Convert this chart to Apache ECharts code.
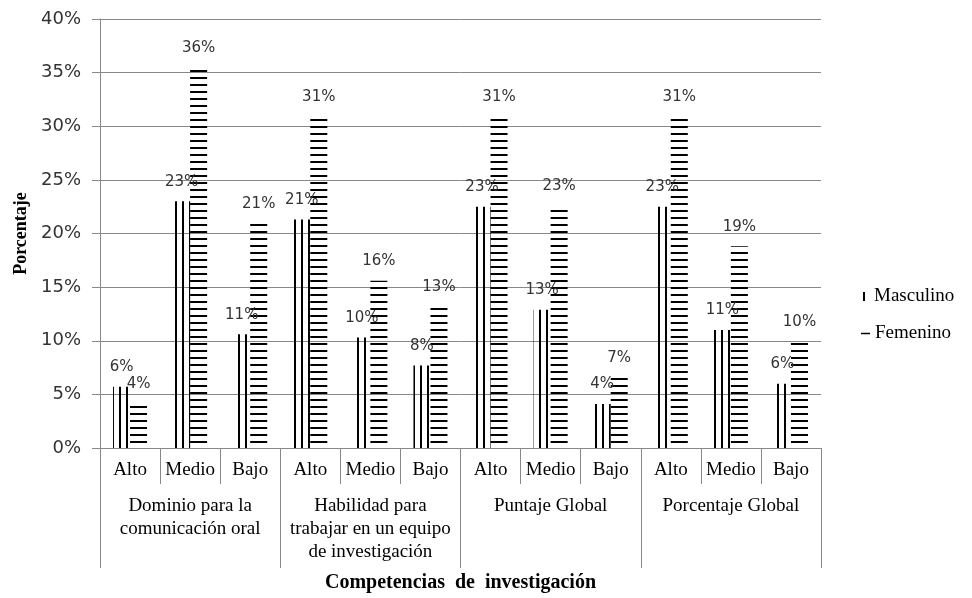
<!DOCTYPE html>
<html>
<head>
<meta charset="utf-8">
<script src="https://cdn.jsdelivr.net/npm/echarts@6/dist/echarts.min.js"></script>
<style>
html,body{margin:0;padding:0;background:#fff;}
#chart{width:972px;height:598px;}
</style>
</head>
<body>
<div id="chart"></div>
<script>
// ---- data ----
const categories = ['Alto','Medio','Bajo','Alto','Medio','Bajo','Alto','Medio','Bajo','Alto','Medio','Bajo'];
const groups = ['Dominio para la\ncomunicación oral', 'Habilidad para\ntrabajar en un equipo\nde investigación', 'Puntaje Global', 'Porcentaje Global'];
const seriesNames = ['Masculino', 'Femenino'];
const masculino = [5.7, 23.0, 10.6, 21.3, 10.3, 7.7, 22.5, 12.9, 4.1, 22.5, 11.0, 6.0];
const femenino = [4.1, 35.5, 20.9, 30.9, 15.6, 13.2, 30.9, 22.6, 6.6, 30.9, 18.8, 9.9];
const yMin = 0, yMax = 40, yStep = 5;
const yAxisTitle = 'Porcentaje';
const xAxisTitle = 'Competencias  de  investigación';

// ---- patterns ----
function makePattern(w, h, draw) {
  const c = document.createElement('canvas');
  c.width = w; c.height = h;
  const ctx = c.getContext('2d');
  ctx.fillStyle = '#000';
  draw(ctx);
  return {image: c, repeat: 'repeat'};
}
const vertPattern = makePattern(7, 4, ctx => ctx.fillRect(0, 0, 2, 4));
const horizPattern = makePattern(4, 7, ctx => ctx.fillRect(0, 0, 4, 2));

const serif = '"Liberation Serif", "Times New Roman", serif';
const sans = '"DejaVu Sans", sans-serif';
const gray = '#888';

const labelCfg = {
  show: true, position: 'top', distance: 12,
  fontFamily: sans, fontSize: 15, color: '#333',
  formatter: p => Math.round(p.value) + '%'
};

const chart = echarts.init(document.getElementById('chart'), null, {renderer: 'canvas'});
chart.setOption({
  animation: false,
  backgroundColor: '#fff',
  grid: {left: 100, right: 151, top: 19, bottom: 150, containLabel: false},
  legend: [
    {data: [seriesNames[0]], left: 858, top: 282, icon: 'rect', itemWidth: 2, itemHeight: 9,
     itemStyle: {color: '#000'},
     textStyle: {fontFamily: serif, fontSize: 19, color: '#000', padding: [0, 0, 0, 4]}},
    {data: [seriesNames[1]], left: 856, top: 319, icon: 'rect', itemWidth: 9, itemHeight: 1.5,
     itemStyle: {color: '#000'},
     textStyle: {fontFamily: serif, fontSize: 19, color: '#000', padding: [0, 0, 0, 0]}}
  ],
  xAxis: [
    {
      type: 'category', data: categories, position: 'bottom',
      axisLine: {show: true, lineStyle: {color: gray, width: 1}},
      axisTick: {show: true, length: 36, interval: 0, lineStyle: {color: gray}},
      axisLabel: {interval: 0, margin: 13, fontFamily: serif, fontSize: 19, color: '#000'},
      splitLine: {show: false}
    },
    {
      type: 'category', data: groups, position: 'bottom', offset: 0,
      axisLine: {show: false},
      axisTick: {show: true, length: 120, interval: 0, lineStyle: {color: gray}},
      axisLabel: {interval: 0, margin: 47, fontFamily: serif, fontSize: 19, lineHeight: 23, color: '#000'},
      name: xAxisTitle, nameLocation: 'middle', nameGap: 125,
      nameTextStyle: {fontFamily: serif, fontSize: 20, fontWeight: 'bold', color: '#000'}
    }
  ],
  yAxis: {
    type: 'value', min: yMin, max: yMax, interval: yStep,
    axisLine: {show: true, lineStyle: {color: gray}},
    axisTick: {show: true, length: 8, lineStyle: {color: gray}},
    axisLabel: {margin: 19, fontFamily: sans, fontSize: 18, color: '#333', formatter: '{value}%'},
    splitLine: {show: true, lineStyle: {color: gray, width: 1}},
    name: yAxisTitle, nameLocation: 'middle', nameGap: 70,
    nameTextStyle: {fontFamily: serif, fontSize: 18, fontWeight: 'bold', color: '#000'}
  },
  series: [
    {name: seriesNames[0], type: 'bar', xAxisIndex: 0, data: masculino, barWidth: 17, barGap: '0%',
     itemStyle: {color: vertPattern}, label: labelCfg},
    {name: seriesNames[1], type: 'bar', xAxisIndex: 0, data: femenino, barWidth: 17, barGap: '0%',
     itemStyle: {color: horizPattern}, label: labelCfg}
  ]
});
</script>
</body>
</html>
